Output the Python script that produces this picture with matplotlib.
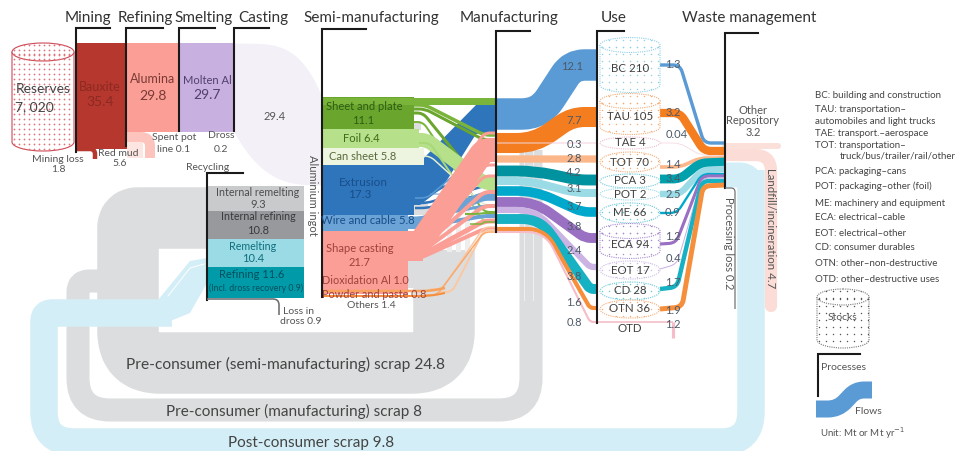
import numpy as np
import matplotlib
matplotlib.use('Agg')
import matplotlib.pyplot as plt
from matplotlib.path import Path
from matplotlib.patches import PathPatch, Ellipse, Rectangle, Polygon

plt.rcParams['font.family'] = ['Lato', 'DejaVu Sans']

####################### VALUES #######################
primary_names = ['Bauxite', 'Alumina', 'Molten Al']
primary_values = [35.4, 29.8, 29.7]
ingot_value = 29.4

recycling_names = ['Internal remelting', 'Internal refining', 'Remelting', 'Refining']
recycling_values = [9.3, 10.8, 10.4, 11.6]

semi_names = ['Sheet and plate', 'Foil', 'Can sheet', 'Extrusion', 'Wire and cable', 'Shape casting']
semi_values = [11.1, 6.4, 5.8, 17.3, 5.8, 21.7]

use_names = ['BC', 'TAU', 'TAE', 'TOT', 'PCA', 'POT', 'ME', 'ECA', 'EOT', 'CD', 'OTN', 'OTD']
use_stocks = [210, 105, 4, 70, 3, 2, 66, 94, 17, 28, 36, None]
use_inflow = [12.1, 7.7, 0.3, 2.8, 4.2, 3.1, 3.7, 3.8, 2.4, 3.8, 1.6, 0.8]
use_outflow = [1.3, 3.2, 0.04, 1.4, 3.4, 2.5, 0.9, 1.2, 0.4, 1.7, 1.9, 1.2]

scrap_semi = 24.8
scrap_manu = 8
scrap_post = 9.8
landfill = 4.7

legend_lines = ['BC: building and construction', 'TAU: transportation\u2013', 'automobiles and light trucks',
                'TAE: transport.\u2013aerospace', 'TOT: transportation\u2013', 'truck/bus/trailer/rail/other',
                'PCA: packaging\u2013cans', 'POT: packaging\u2013other (foil)', 'ME: machinery and equipment',
                'ECA: electrical\u2013cable', 'EOT: electrical\u2013other', 'CD: consumer durables',
                'OTN: other\u2013non-destructive', 'OTD: other\u2013destructive uses']

####################### LAYOUT (pixels) #######################
primary_x = [(76, 127), (127, 179), (179, 234)]
primary_scale = 3.0
stage_top = 43
recycling_scale = 2.65
semi_scale = 2.9
flow_scale = 2.6

use_cy = [65, 114, 143, 162, 181, 194, 213, 241, 270, 291, 309, 322]
use_ry = [27, 20, 6, 10, 7, 6, 10, 17, 9, 9, 9, 0]
use_col = ['#8fd0e6', '#f4ad78', '#f0bccd', '#f4ad78', '#6cc9d8', '#9adbe6', '#6cc9d8', '#a98ad0', '#d0bce6',
           '#6cc9d8', '#f4ad78', '#f3b8c0']
in_col = ['#5b9bd5', '#f47d20', '#f3d3dc', '#fbb78a', '#00929f', '#9adbe6', '#00a9cc', '#9a70c2', '#cbb4e3',
          '#16b1c2', '#f58f3c', '#f6bcc8']
in_y0 = [114, 143, 143, 159, 171, 181, 191, 202, 210, 219, 229, 232]
in_y1 = [65, 117, 143, 159, 180, 193, 212, 238, 267, 289, 308, 322]
in_x0 = [540, 535, 555, 496, 535, 530, 535, 535, 535, 540, 545, 545]
in_x1 = [572, 572, 597, 597, 578, 575, 582, 585, 590, 590, 590, 590]
out_route = [[(660, 65), (680, 65), (704, 143), (725, 143)],
             [(660, 113), (680, 113), (704, 151), (725, 151)],
             [(660, 143), (680, 143), (700, 155), (725, 156)],
             [(660, 167), (680, 167), (700, 158), (725, 158)],
             [(660, 179), (680, 179), (700, 163), (725, 162)],
             [(660, 194), (680, 194), (702, 170), (725, 169)],
             [(660, 213), (677, 213), (702, 174), (725, 174)],
             [(660, 244), (676, 243), (702, 176), (725, 176)],
             [(660, 269), (677, 264), (702, 178), (725, 178)],
             [(660, 289), (677, 287), (702, 181), (725, 181)],
             [(660, 309), (682, 307), (703, 186), (725, 185)],
             [(673, 322), (673, 338)]]
out_col = ['#5b9bd5', '#f47d20', '#f3d3dc', '#fbb78a', '#00a0ad', '#9adbe6', '#00a9cc', '#9a70c2', '#cbb4e3',
           '#16b1c2', '#f58f3c', '#f6bcc8']
in_lab_xy = [(572, 66), (574, 121), (574, 145), (574, 159), (574, 173), (574, 189), (574, 207), (574, 226),
             (574, 250), (574, 276), (574, 302), (574, 322)]
out_lab_xy = [(673, 65), (673, 113), (677, 134), (673, 164), (673, 179), (673, 194), (673, 213), (673, 236),
              (673, 259), (673, 283), (673, 310), (673, 325)]
legend_xy = [(815, 96), (815, 110), (815, 121), (815, 134), (815, 146), (840, 156), (815, 171), (815, 186),
             (815, 203), (815, 218), (815, 233), (815, 248), (815, 263), (815, 279)]
headers = [('Mining', 88, 18), ('Refining', 145, 18), ('Smelting', 204, 18), ('Casting', 263, 18),
           ('Semi-manufacturing', 371, 18), ('Manufacturing', 509, 18), ('Use', 614, 18),
           ('Waste management', 749, 18)]
brackets = [(76, 28, 152, 110), (126, 28, 146, 163), (179, 28, 131, 215), (234, 28, 131, 269),
            (322, 29, 297, 366), (496, 31, 232, 530), (597, 31, 323, 624), (725, 33, 188, 758),
            (207, 173, 300, 243), (818, 354, 396, 860)]
notches = [(408, 121, 13, 9), (408, 141, 13, 6), (408, 160, 13, 4), (408, 202, 20, 13), (408, 261, 32, 27)]
extrusion_body = [(408, 165), (417, 165), (476, 105), (496, 105), (496, 132), (476, 134), (442, 188), (420, 205),
                  (408, 205)]
# semi -> manufacturing tangle: x0, y0, y1, width, colour
tangle = [(413, 105, 135, 3.5, '#7ab43a'), (413, 109, 140, 3, '#6aa62e'), (411, 113, 188, 3, '#6aa62e'),
          (411, 122, 212, 2, '#7ab43a'),
          (415, 196, 165, 2, '#2f75bb'), (415, 203, 186, 2.5, '#2f75bb'),
          (415, 208, 194, 2.5, '#2f75bb'), (415, 198, 150, 1.5, '#5b9bd5'), (430, 194, 200, 1, '#5b9bd5'),
          (415, 140, 183, 14, '#b6e08a'), (418, 143, 222, 2, '#a8d878'), (418, 156, 205, 1.5, '#e4efcf'),
          (408, 222, 196, 9, '#6ba3d6'), (408, 218, 206, 3, '#6ba3d6'), (408, 227, 216, 4, '#6ba3d6'),
          (408, 236, 133, 3, '#fb9e96'), (408, 243, 150, 24, '#fb9e96'), (408, 245, 165, 3, '#fb9e96'),
          (408, 248, 176, 3, '#fb9e96'), (408, 250, 192, 4, '#fb9e96'), (408, 253, 206, 4, '#fb9e96'),
          (408, 256, 221, 5, '#fb9e96'), (408, 258, 229, 4, '#fb9e96'),
          (440, 292, 230, 2, '#fbc8a4'), (430, 289, 227, 1.5, '#fbc8a4'), (425, 295, 232, 1.5, '#f9a86c'),
          (465, 214, 213, 2, '#7ab43a'), (470, 224, 222, 1.5, '#7ab43a')]


def ribbon(ax, points, width, color, radius=12, cap='butt', z=2, alpha=None):
    pts = np.array(points, dtype=float)
    radii = radius if np.iterable(radius) else [radius] * (len(pts) - 2)
    verts = [pts[0]]
    codes = [Path.MOVETO]
    for i in range(1, len(pts) - 1):
        a, p, b = pts[i - 1], pts[i], pts[i + 1]
        da = np.linalg.norm(a - p)
        db = np.linalg.norm(b - p)
        r = min(radii[i - 1], da / 2, db / 2)
        verts += [p + (a - p) / da * r, p, p + (b - p) / db * r]
        codes += [Path.LINETO, Path.CURVE3, Path.CURVE3]
    verts.append(pts[-1])
    codes.append(Path.LINETO)
    ax.add_patch(PathPatch(Path(verts, codes), fc='none', ec=color, lw=width * 0.72, capstyle=cap,
                           joinstyle='round', zorder=z, alpha=alpha))


def dots(ax, patch, color, step=7, size=1.1, z=5):
    x0, y0, x1, y1 = patch.get_path().transformed(patch.get_patch_transform()).get_extents().extents
    gx, gy = np.meshgrid(np.arange(x0 + 2, x1, step), np.arange(y0 + 2, y1, step))
    sc = ax.scatter(gx.ravel(), gy.ravel(), s=size, color=color, lw=0, zorder=z)
    sc.set_clip_path(patch)


def cylinder(ax, cx, top, bot, rx, ry, color, dot_color=None, lw=0.8, ls='-', step=7, size=1.1):
    k = 0.5523
    body = Path([(cx - rx, top), (cx - rx, bot),
                 (cx - rx, bot + k * ry), (cx - k * rx, bot + ry), (cx, bot + ry),
                 (cx + k * rx, bot + ry), (cx + rx, bot + k * ry), (cx + rx, bot),
                 (cx + rx, top), (cx - rx, top)],
                [Path.MOVETO, Path.LINETO, Path.CURVE4, Path.CURVE4, Path.CURVE4,
                 Path.CURVE4, Path.CURVE4, Path.CURVE4, Path.LINETO, Path.CLOSEPOLY])
    p = PathPatch(body, fc='white', ec=color, lw=lw, ls=ls, zorder=4)
    ax.add_patch(p)
    lid = Ellipse((cx, top), 2 * rx, 2 * ry, fc='white', ec=color, lw=lw, ls=ls, zorder=4)
    ax.add_patch(lid)
    if dot_color:
        dots(ax, p, dot_color, step, size)
        dots(ax, lid, dot_color, step, size)


def lab(ax, x, y, s, size=8, color='#555555', **kw):
    ha = kw.pop('ha', 'center')
    ax.text(x, y, s, fontsize=size, color=color, ha=ha, va='center', zorder=9, **kw)


fig = plt.figure(figsize=(9.69, 4.51), dpi=100)
ax = fig.add_axes([0, 0, 1, 1])
ax.set_xlim(0, 969)
ax.set_ylim(451, 0)
ax.axis('off')

####################### SCRAP LOOPS #######################
GREY = '#dcddde'
BLUE = '#d3eef6'
ribbon(ax, [(207, 218), (128, 218), (128, 363), (444, 363), (444, 250)], scrap_semi * 2.48, GREY,
       radius=[10, 32, 32], z=1)
ribbon(ax, [(531, 150), (531, 410), (78, 410), (78, 281), (100, 281)], scrap_manu * 2.88, GREY,
       radius=[32, 32, 12], z=1)
for n in notches:
    ax.add_patch(Rectangle((n[0], n[1]), n[2], n[3], fc=GREY, ec='none', zorder=1))
for x in [447, 456, 465]:
    ax.add_patch(Rectangle((x, 160), 5, 92, fc='#eeeeef', ec='none', zorder=1))
for x in [524, 533]:
    ax.plot([x, x], [150, 300], color='white', lw=0.7, alpha=0.6, zorder=1.5)

ribbon(ax, [(751, 170), (751, 442), (44, 442), (44, 313), (172, 313)], scrap_post * 2.8, BLUE,
       radius=[30, 30, 8], z=1.6)
ax.add_patch(Polygon([(158, 300), (190, 261), (207, 258), (207, 283), (190, 313), (158, 326)],
                     fc=BLUE, ec='none', zorder=1.6))
ax.plot([168, 190, 204], [296, 268, 264], color='white', lw=0.7, zorder=1.7)
ribbon(ax, [(725, 175), (751, 175), (751, 205)], 25, BLUE, radius=12, z=1.6)
ribbon(ax, [(725, 155), (771, 155), (771, 306)], landfill * flow_scale, '#fbdcd6', radius=16, cap='round', z=1.7)
ribbon(ax, [(725, 146), (778, 146)], 6, '#fbdfd9', cap='round', z=1.7)

####################### PRIMARY CHAIN #######################
cylinder(ax, 43, 52, 142, 31, 9, '#cc4a55', '#e0707a', step=5, size=1.6)
primary_col = ['#b5372e', '#fb9e96', '#c8b0e0']
for (x0, x1), v, c in zip(primary_x, primary_values, primary_col):
    ax.add_patch(Rectangle((x0, stage_top), x1 - x0, v * primary_scale, fc=c, ec='none', zorder=3))
ax.add_patch(Rectangle((127, 132), 16, 26, fc='#fde6e1', ec='none', zorder=1.9))
ribbon(ax, [(127, 137), (150, 137), (150, 158)], 10, '#fcc4bc', radius=9, z=2)
ribbon(ax, [(76, 149), (95, 149), (95, 159)], 4.5, '#b5372e', radius=5, z=3)

# ingot stream
xs = np.linspace(0, 1, 40)
top = 43 + (97 - 43) * xs ** 4
low = 132 + (185 - 132) * (1 - (1 - xs) ** 3)
ax.fill_between(234 + 88 * xs, top, low, color='#f3f0f8', lw=0, zorder=1.2)

####################### RECYCLING #######################
rec_col = ['#c9cacc', '#98999c', '#9adbe6', '#009aa8']
y = 186
for v, c in zip(recycling_values, rec_col):
    h = v * recycling_scale
    ax.add_patch(Rectangle((207, y), 97, h, fc=c, ec='none', zorder=3))
    y += h

####################### SEMI #######################
semi_col = ['#6aa62e', '#b6e08a', '#edf4e0', '#2f75bb', '#6ba3d6', '#fb9e96']
semi_w = [92, 97, 102, 92, 86, 86]
y = 97
for v, c, w in zip(semi_values, semi_col, semi_w):
    h = v * semi_scale
    ax.add_patch(Rectangle((322, y), w, h, fc=c, ec='none', zorder=3))
    y += h
ribbon(ax, [(322, 100.5), (496, 100.5)], 7, '#7ab43a', z=3)
ax.add_patch(Rectangle((322, 231), 86, 58, fc='#fb9e96', ec='none', zorder=3))
ax.add_patch(Rectangle((408, 231), 15, 30, fc='#fb9e96', ec='none', zorder=3))
ribbon(ax, [(322, 291), (430, 291), (445, 288)], 2.5, '#f7a15c', z=3.2, radius=8)
ribbon(ax, [(322, 296), (430, 296), (445, 293)], 2, '#f58f3c', z=3.2, radius=8)

ax.add_patch(Polygon(extrusion_body, fc='#2f75bb', ec='none', zorder=2.2))
for x0, y0, y1, w, c in tangle:
    ribbon(ax, [(x0, y0), (x0 + 12, y0), (484, y1), (496, y1)], w, c, radius=14, z=2.5)

####################### USE #######################
for i, (v, c) in enumerate(zip(use_inflow, in_col)):
    w = max(v * flow_scale, 1.0)
    ribbon(ax, [(496, in_y0[i]), (in_x0[i], in_y0[i]), (in_x1[i], in_y1[i]), (597, in_y1[i])], w, c, radius=18, z=3)
    lab(ax, in_lab_xy[i][0], in_lab_xy[i][1], str(v), color='#4d5966')
for i, (v, c) in enumerate(zip(use_outflow, out_col)):
    ribbon(ax, out_route[i], max(v * flow_scale, 0.7), c, radius=7, z=3)
    lab(ax, out_lab_xy[i][0], out_lab_xy[i][1], str(v), color='#4d5966')

dotted = (0, (1, 1))
for i, name in enumerate(use_names):
    cy, ry, c = use_cy[i], use_ry[i], use_col[i]
    if name in ('BC', 'TAU', 'ECA'):
        cylinder(ax, 630, cy - ry + 7, cy + ry - 7, 30, 7.5, c, c, ls=dotted)
    elif ry > 0:
        e = Ellipse((630, cy), 60, 2 * ry, fc='white', ec=c, lw=0.8, ls=dotted, zorder=4)
        ax.add_patch(e)
        if use_stocks[i] > 4:
            dots(ax, e, c)
    else:
        ribbon(ax, [(597, cy), (673, cy)], 1.5, c, z=3)
    txt = name if use_stocks[i] is None else name + ' ' + str(use_stocks[i])
    yy = cy + 6 if name == 'OTD' else cy + (3 if ry > 15 else 0)
    lab(ax, 630, yy, txt, size=8.3, color='#404040')

####################### BRACKETS #######################
for x, y0, y1, x2 in brackets:
    ax.plot([x2, x, x], [y0, y0, y1], color='#1a1a1a', lw=1.5, solid_joinstyle='miter', zorder=8)
ribbon(ax, [(725, 188), (735, 188), (735, 309)], 1.2, '#6d6e71', radius=4, z=8)
ribbon(ax, [(207, 299), (279, 299), (279, 315)], 1.6, '#6d6e71', radius=6, z=8)

####################### TEXT #######################
for s_, x, y in headers:
    lab(ax, x, y, s_, size=11, color='#333333')

lab(ax, 43, 89, 'Reserves', size=10, color='#444444')
lab(ax, 34, 107, '7, 020', size=10, color='#444444')
prim_lab_xy = [(100, 87, 102), (153, 79, 96), (207, 80, 95)]
prim_txt = ['#8c2a22', '#7a3a36', '#50406e']
for (x, y1, y2), n, v, c in zip(prim_lab_xy, primary_names, primary_values, prim_txt):
    lab(ax, x, y1, n, size=8 if n == 'Molten Al' else 9, color=c)
    lab(ax, x, y2, str(v), size=10, color=c)
lab(ax, 275, 116, str(ingot_value), size=8)
lab(ax, 58, 159, 'Mining loss', size=7.5)
lab(ax, 58, 170, '1.8', size=7.5)
lab(ax, 118, 153, 'Red mud', size=7.5)
lab(ax, 120, 164, '5.6', size=7.5)
lab(ax, 174, 138, 'Spent pot', size=7.5)
lab(ax, 174, 150, 'line 0.1', size=7.5)
lab(ax, 221, 136, 'Dross', size=7.5)
lab(ax, 221, 149, '0.2', size=7.5)
lab(ax, 208, 167, 'Recycling', size=7.5)
lab(ax, 313, 195, 'Aluminium ingot', size=8, rotation=270)

rec_lab = [(258, 193, 205), (258, 217, 230), (253, 246, 259)]
rec_txt = ['#4d4d4f', '#3a3a3c', '#0f6f7c']
for (x, y1, y2), n, v, c in zip(rec_lab, recycling_names, recycling_values, rec_txt):
    lab(ax, x, y1, n, size=7.7, color=c)
    lab(ax, x, y2, str(v), size=8, color=c)
lab(ax, 252, 275, recycling_names[3] + ' ' + str(recycling_values[3]), size=8, color='#054f5c')
lab(ax, 256, 288, '(Incl. dross recovery 0.9)', size=6.3, color='#054f5c')
lab(ax, 283, 311, 'Loss in', size=7.5, ha='left')
lab(ax, 280, 322, 'dross 0.9', size=7.5, ha='left')

semi_txt = ['#2f5c12', '#3d6b1a', '#5a6b3a', '#184e8a', '#184e8a', '#a0423c']
lab(ax, 364, 106, semi_names[0], size=8, color=semi_txt[0])
lab(ax, 363, 120, str(semi_values[0]), size=8, color=semi_txt[0])
lab(ax, 361, 139, semi_names[1] + ' ' + str(semi_values[1]), size=8, color=semi_txt[1])
lab(ax, 363, 156, semi_names[2] + ' ' + str(semi_values[2]), size=8, color=semi_txt[2])
lab(ax, 363, 182, semi_names[3], size=8.5, color=semi_txt[3])
lab(ax, 360, 195, str(semi_values[3]), size=8.5, color=semi_txt[3])
lab(ax, 368, 221, semi_names[4] + ' ' + str(semi_values[4]), size=8.2, color=semi_txt[4])
lab(ax, 360, 249, semi_names[5], size=8, color=semi_txt[5])
lab(ax, 360, 262, str(semi_values[5]), size=8, color=semi_txt[5])
lab(ax, 365, 280, 'Dioxidation Al 1.0', size=7.8, color=semi_txt[5])
lab(ax, 374, 294, 'Powder and paste 0.8', size=7.8, color='#a0423c')
lab(ax, 371, 306, 'Others 1.4', size=7.5)

lab(ax, 286, 364, 'Pre-consumer (semi-manufacturing) scrap ' + str(scrap_semi), size=11.2, color='#444444')
lab(ax, 294, 411, 'Pre-consumer (manufacturing) scrap ' + str(scrap_manu), size=11, color='#444444')
lab(ax, 311, 443, 'Post-consumer scrap ' + str(scrap_post), size=11, color='#444444')

lab(ax, 753, 110, 'Other', size=8)
lab(ax, 753, 121, 'Repository', size=8)
lab(ax, 753, 133, '3.2', size=8)
lab(ax, 771, 228, 'Landfill/incineration ' + str(landfill), size=8.3, rotation=270)
lab(ax, 729, 243, 'Processing loss 0.2', size=8, rotation=270)

for (x, y), s_ in zip(legend_xy, legend_lines):
    lab(ax, x, y, s_, size=7, color='#444444', ha='left')
cylinder(ax, 843, 297, 340, 26, 8, '#777777', '#555555', ls=dotted)
lab(ax, 843, 318, 'Stocks', size=7.5, color='#555555')
lab(ax, 821, 368, 'Processes', size=7.5, ha='left')
ribbon(ax, [(816, 409), (838, 409), (856, 390), (872, 390)], 17, '#5b9bd5', radius=10, z=5)
lab(ax, 855, 412, 'Flows', size=7.5, ha='left')
lab(ax, 820, 433, 'Unit: Mt or Mt yr$^{-1}$', size=7, ha='left', math_fontfamily='dejavusans')

plt.savefig('out.png', dpi=100)
